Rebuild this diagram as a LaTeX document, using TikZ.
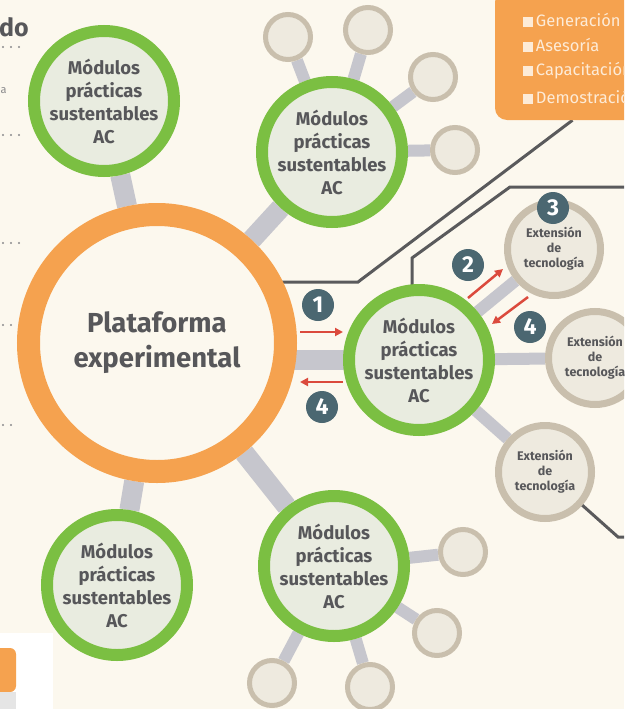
\documentclass[tikz,border=0pt]{standalone}
\usepackage{fontspec}
\setmainfont{Fira Sans}
\usetikzlibrary{arrows.meta,backgrounds}
\definecolor{cream}{HTML}{FCF8EE}
\definecolor{ringorange}{HTML}{F5A24F}
\definecolor{ringgreen}{HTML}{7BBF42}
\definecolor{modfill}{HTML}{E9ECE0}
\definecolor{tanring}{HTML}{C9BFAD}
\definecolor{tanfill}{HTML}{EEEADF}
\definecolor{linkgray}{HTML}{C6C6CD}
\definecolor{darkline}{HTML}{5A5A5C}
\definecolor{txtgray}{HTML}{57575A}
\definecolor{badgeblue}{HTML}{4B6771}
\definecolor{arrowred}{HTML}{DB4A3D}
\definecolor{legtext}{HTML}{FDEBD7}
\definecolor{dotgray}{HTML}{8A8A8C}

\begin{document}
\begin{tikzpicture}
[
x=1pt, y=-1pt,
platnode/.style={circle, draw=ringorange, line width=23pt, fill=cream, minimum size=257pt, inner sep=0,
  align=center, text=txtgray, font=\bfseries\fontsize{27.5}{35}\selectfont},
modnode/.style={circle, draw=ringgreen, line width=12pt, fill=modfill, minimum size=140pt, inner sep=0,
  align=center, text=txtgray, font=\bfseries\fontsize{18.5}{23}\selectfont},
satnode/.style={circle, draw=tanring, line width=5pt, fill=tanfill, minimum size=45pt, inner sep=0},
extnode/.style={circle, draw=tanring, line width=7pt, fill=tanfill, minimum size=93pt, inner sep=0,
  align=center, text=txtgray, font=\bfseries\fontsize{12.5}{15}\selectfont},
badge/.style={circle, fill=badgeblue, minimum size=32pt, inner sep=0, text=white,
  font=\bfseries\fontsize{23}{23}\selectfont},
biglink/.style={linkgray, line width=20pt},
smalllink/.style={linkgray, line width=12pt},
darkrule/.style={darkline, line width=3pt},
redarrow/.style={arrowred, line width=2.5pt, -{Triangle[length=8pt,width=8pt]}},
legitem/.style={anchor=west, inner sep=0, text=legtext, font=\fontsize{16.5}{16.5}\selectfont}
]
\useasboundingbox (0,0) rectangle (624,709);
\clip (0,0) rectangle (624,709);

% page fragments
\fill[white] (0,633) rectangle (53,709);
\fill[ringorange, rounded corners=6pt] (-10,648) rectangle (16,692);
\fill[black!10] (0,692) rectangle (16,709);
\node[anchor=west, inner sep=0, text=txtgray, font=\bfseries\fontsize{25}{25}\selectfont] (head) at (-1,27) {do};
\node[anchor=west, inner sep=0, text=dotgray, font=\fontsize{11}{11}\selectfont] (frag) at (0.5,91) {a};
\foreach \yy in {47, 135, 243}
  \foreach \xx in {3, 11, 19}
    \fill[dotgray] (\xx,\yy) circle[radius=1.1pt];
\foreach \yy in {325, 425}
  \foreach \xx in {3, 11}
    \fill[dotgray] (\xx,\yy) circle[radius=1.1pt];

% legend box
\node[fill=ringorange, rounded corners=12pt, minimum width=155pt, minimum height=130pt, inner sep=0] (legend) at (572.5,55) {};
\node[legitem] (gen) at (523,20) {\rule{10pt}{10pt}\,Generación};
\node[legitem] (ase) at (523,45) {\rule{10pt}{10pt}\,Asesoría};
\node[legitem] (cap) at (523,71) {\rule{10pt}{10pt}\,Capacitación};
\node[legitem] (dem) at (523,97) {\rule{10pt}{10pt}\,Demostración};

% hubs
\node[platnode] (plat) at (157,343) {Plataforma\\experimental};
\node[modnode] (modTL) at (104,101) {Módulos\\prácticas\\sustentables\\AC};
\node[modnode] (modTR) at (332,152) {Módulos\\prácticas\\sustentables\\AC};
\node[modnode] (modC)  at (419,360) {Módulos\\prácticas\\sustentables\\AC};
\node[modnode] (modBL) at (117,585) {Módulos\\prácticas\\sustentables\\AC};
\node[modnode] (modBM) at (334,566) {Módulos\\prácticas\\sustentables\\AC};

% satellites
\node[satnode] (sa1) at (288,37) {};
\node[satnode] (sa2) at (368,30) {};
\node[satnode] (sa3) at (433,77) {};
\node[satnode] (sa4) at (455,150) {};
\node[satnode] (sb1) at (463,552) {};
\node[satnode] (sb2) at (437,633) {};
\node[satnode] (sb3) at (370,687) {};
\node[satnode] (sb4) at (272,683) {};

\node[extnode] (ext1) at (554,249) {Extensión\\de\\tecnología};
\node[extnode] (ext2) at (595,358) {Extensión\\de\\tecnología};
\node[extnode] (ext3) at (545,472) {Extensión\\de\\tecnología};

% steps
\node[badge] (st1)  at (318,305) {1};
\node[badge] (st4a) at (322,407) {4};
\node[badge] (st2)  at (468,265) {2};
\node[badge] (st4b) at (530,327) {4};
\node[badge] (st3)  at (553,208) {3};

\coordinate (r1s) at (300,332); \coordinate (r1e) at (343,332);
\coordinate (r4s) at (343,382); \coordinate (r4e) at (300,382);
\coordinate (r2s) at (468,298); \coordinate (r2e) at (503,269);
\coordinate (r5s) at (528,297); \coordinate (r5e) at (492,324);
\draw[redarrow] (r1s) -- (r1e);
\draw[redarrow] (r4s) -- (r4e);
\draw[redarrow] (r2s) -- (r2e);
\draw[redarrow] (r5s) -- (r5e);

\begin{scope}[on background layer]
\fill[cream] (0,0) rectangle (624,709);
\draw[darkrule] (legend.south) -- (358,282) -- (plat.center |- 358,282);
\draw[darkrule] (modC.center -| 412,0) -- (412,258) -- (510,187) -- (624,187);
\draw[darkrule] (ext3.center) -- (618,537) -- (624,537);
\foreach \mm in {modTL, modTR, modBL, modBM}
  \draw[biglink] (plat) -- (\mm);
\draw[biglink] (modC.center) -- (modC.center -| plat.center);
\foreach \ss in {sa1, sa2, sa3, sa4}
  \draw[smalllink] (modTR) -- (\ss);
\foreach \ss in {sb1, sb2, sb3, sb4}
  \draw[smalllink] (modBM) -- (\ss);
\foreach \ee in {ext1, ext2, ext3}
  \draw[smalllink] (modC) -- (\ee);
\end{scope}
\end{tikzpicture}
\end{document}
